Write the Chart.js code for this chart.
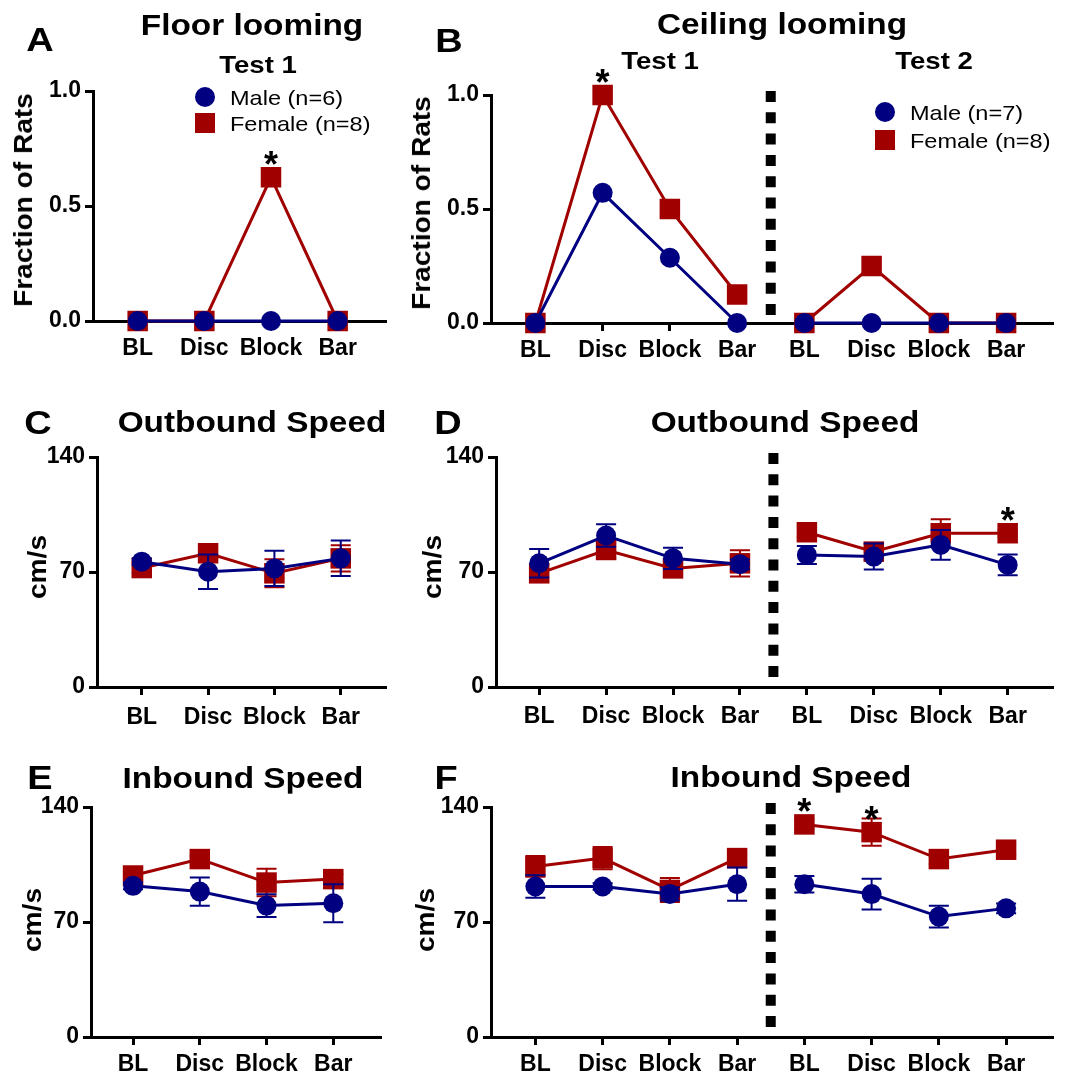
<!DOCTYPE html>
<html>
<head>
<meta charset="utf-8">
<script src="https://cdn.jsdelivr.net/npm/chart.js@4.4.1/dist/chart.umd.min.js"></script>
<style>
  body { margin: 0; background: #fff; }
  #fig { position: relative; width: 1067px; height: 1076px; overflow: hidden; }
  canvas { position: absolute; }
  .t {
    position: absolute; white-space: nowrap; line-height: 1; color: #000;
    font-family: "Liberation Sans", Arial, sans-serif; font-weight: bold;
    transform: translate(-50%, -50%) scaleX(1.15);
  }
  .lg { font-weight: normal; transform-origin: left center; transform: translate(0, -50%) scaleX(1.12); }
  .yt { transform: translate(-50%, -50%) rotate(-90deg) scaleX(1.08); }
  .mk { position: absolute; width: 20px; height: 20px; transform: translate(-50%, -50%); }
</style>
</head>
<body>
<div id="fig">
  <canvas id="cA" width="400" height="370" style="left:0;top:0;width:400px;height:370px"></canvas>
  <canvas id="cB" width="667" height="370" style="left:400px;top:0;width:667px;height:370px"></canvas>
  <canvas id="cC" width="400" height="360" style="left:0;top:370px;width:400px;height:360px"></canvas>
  <canvas id="cD" width="667" height="360" style="left:400px;top:370px;width:667px;height:360px"></canvas>
  <canvas id="cE" width="400" height="346" style="left:0;top:730px;width:400px;height:346px"></canvas>
  <canvas id="cF" width="667" height="346" style="left:400px;top:730px;width:667px;height:346px"></canvas>

  <div class="t" style="left:40px;top:39px;font-size:33px">A</div>
  <div class="t" style="left:449px;top:40px;font-size:33px">B</div>
  <div class="t" style="left:38px;top:422px;font-size:33px">C</div>
  <div class="t" style="left:448px;top:422px;font-size:33px">D</div>
  <div class="t" style="left:40px;top:777px;font-size:33px">E</div>
  <div class="t" style="left:446px;top:777px;font-size:33px">F</div>

  <div class="t" style="left:252px;top:25px;font-size:29px">Floor looming</div>
  <div class="t" style="left:782px;top:24px;font-size:29px">Ceiling looming</div>
  <div class="t" style="left:252px;top:422px;font-size:29px">Outbound Speed</div>
  <div class="t" style="left:785px;top:422px;font-size:29px">Outbound Speed</div>
  <div class="t" style="left:243px;top:778px;font-size:29px">Inbound Speed</div>
  <div class="t" style="left:791px;top:777px;font-size:29px">Inbound Speed</div>

  <div class="t" style="left:258px;top:65px;font-size:24px">Test 1</div>
  <div class="t" style="left:660px;top:61px;font-size:24px">Test 1</div>
  <div class="t" style="left:934px;top:61px;font-size:24px">Test 2</div>

  <div class="t yt" style="left:23px;top:200px;font-size:26px">Fraction of Rats</div>
  <div class="t yt" style="left:421px;top:203px;font-size:26px">Fraction of Rats</div>
  <div class="t yt" style="left:37px;top:567px;font-size:26px">cm/s</div>
  <div class="t yt" style="left:432px;top:567px;font-size:26px">cm/s</div>
  <div class="t yt" style="left:32px;top:920px;font-size:26px">cm/s</div>
  <div class="t yt" style="left:425px;top:920px;font-size:26px">cm/s</div>

  <!-- legends -->
  <div class="mk" style="left:205px;top:97px;border-radius:50%;background:#000080"></div>
  <div class="mk" style="left:205px;top:123px;background:#a00000"></div>
  <div class="t lg" style="left:230px;top:97px;font-size:21px">Male (n=6)</div>
  <div class="t lg" style="left:230px;top:123px;font-size:21px">Female (n=8)</div>
  <div class="mk" style="left:885px;top:112px;border-radius:50%;background:#000080"></div>
  <div class="mk" style="left:885px;top:140px;background:#a00000"></div>
  <div class="t lg" style="left:910px;top:112px;font-size:21px">Male (n=7)</div>
  <div class="t lg" style="left:910px;top:140px;font-size:21px">Female (n=8)</div>
</div>

<script>
// tick labels
const cats4 = ["BL", "Disc", "Block", "Bar"];
const cats8 = ["BL", "Disc", "Block", "Bar", "BL", "Disc", "Block", "Bar"];

// A - floor looming, fraction of rats
const aMale = [0, 0, 0, 0];
const aFemale = [0, 0, 0.625, 0];
// B - ceiling looming, test 1 + test 2
const bMale = [0, 0.571, 0.286, 0, 0, 0, 0, 0];
const bFemale = [0, 1.0, 0.5, 0.125, 0, 0.25, 0, 0];

// C - outbound speed (cm/s), mean and sem
const cMale = [76.3, 70.2, 72.2, 78.3];
const cMaleErr = [2, 10.5, 10.7, 10.8];
const cFemale = [72.4, 81.4, 69.2, 78.3];
const cFemaleErr = [3, 3, 8.5, 8];
// D
const dMale = [75.3, 92.2, 78.3, 74.7, 80.4, 79.4, 86.5, 74.3];
const dMaleErr = [8.7, 6.9, 6.5, 3, 5.5, 7.9, 9, 6.3];
const dFemale = [69.2, 83.4, 72.2, 75.3, 94.2, 82.4, 93.6, 93.6];
const dFemaleErr = [5, 5, 3, 8, 3, 5, 8.5, 2];

// E - inbound speed
const eMale = [92.0, 88.5, 80.0, 81.4];
const eMaleErr = [2, 8.6, 6.9, 11.6];
const eFemale = [98.3, 108.3, 94.0, 96.1];
const eFemaleErr = [2, 2, 8.4, 3];
// F
const fMale = [91.6, 91.6, 87.1, 93.0, 93.0, 87.0, 73.3, 78.3];
const fMaleErr = [6.9, 2, 4, 10.1, 5.0, 9.4, 6.6, 3];
const fFemale = [103.8, 108.9, 89.5, 108.9, 129.4, 124.7, 108.3, 114.0];
const fFemaleErr = [6.3, 6.8, 7.3, 2, 3, 8.3, 3, 3];

// significant points (female series index)
const starsA = [2];
const starsB = [1];
const starsD = [7];
const starsF = [4, 5];

const MALE = "#000080";
const FEMALE = "#a00000";
const FONT = "'Liberation Sans', Arial, sans-serif";

// error bars drawn just before each dataset
const errorBars = {
  id: "errorBars",
  beforeDatasetDraw(chart, args) {
    const ds = chart.data.datasets[args.index];
    if (!ds.err) return;
    const xs = chart.scales.x, ys = chart.scales.y, ctx = chart.ctx;
    ctx.save();
    ctx.strokeStyle = ds.borderColor;
    ctx.lineWidth = 2;
    ds.data.forEach((p, i) => {
      const e = ds.err[i];
      const px = xs.getPixelForValue(p.x);
      const top = ys.getPixelForValue(p.y + e);
      const bot = ys.getPixelForValue(p.y - e);
      ctx.beginPath();
      ctx.moveTo(px, top); ctx.lineTo(px, bot);
      ctx.moveTo(px - 10, top); ctx.lineTo(px + 10, top);
      ctx.moveTo(px - 10, bot); ctx.lineTo(px + 10, bot);
      ctx.stroke();
    });
    ctx.restore();
  }
};

// dotted divider between test 1 and test 2, and the asterisks
const extras = {
  id: "extras",
  afterDatasetsDraw(chart, args, opts) {
    const ctx = chart.ctx, xs = chart.scales.x, ys = chart.scales.y;
    const area = chart.chartArea;
    if (opts.divider != null) {
      const px = xs.getPixelForValue(opts.divider);
      ctx.save();
      ctx.strokeStyle = "#000";
      ctx.lineWidth = 10;
      ctx.setLineDash([11, 10.3]);
      ctx.beginPath();
      ctx.moveTo(px, area.top - 4);
      ctx.lineTo(px, area.bottom - 7);
      ctx.stroke();
      ctx.restore();
    }
    if (opts.stars) {
      const ds = chart.data.datasets[1];
      ctx.save();
      ctx.fillStyle = "#000";
      ctx.font = "bold 36px " + FONT;
      ctx.textAlign = "center";
      ctx.textBaseline = "alphabetic";
      opts.stars.forEach(i => {
        const p = ds.data[i];
        const px = xs.getPixelForValue(p.x);
        const py = ys.getPixelForValue(p.y) - 21;
        ctx.fillText("*", px, py + 21);
      });
      ctx.restore();
    }
  }
};

function pts(vals) {
  return vals.map((v, i) => ({ x: i, y: v }));
}

function makePanel(id, box, area, cfg) {
  const yW = 60;
  const xH = cfg.xH || 40;
  const pad = {
    left: area.L - box.x - yW,
    top: area.T - box.y,
    right: box.x + box.w - area.R,
    bottom: box.y + box.h - area.B - xH
  };
  const cats = cfg.cats;
  // no connecting line across the test 1 / test 2 divider
  const seg = {
    borderColor: c => (cfg.divider != null && c.p0DataIndex === 3) ? "rgba(0,0,0,0)" : undefined
  };
  const axisGrid = { display: true, drawOnChartArea: false, drawTicks: true, tickLength: 8, color: "#000", lineWidth: 3 };
  new Chart(document.getElementById(id), {
    type: "line",
    data: {
      datasets: [
        {
          label: "Male",
          data: pts(cfg.male),
          err: cfg.maleErr,
          borderColor: MALE,
          backgroundColor: MALE,
          borderWidth: 3,
          pointStyle: "circle",
          pointRadius: 10,
          pointBorderWidth: 0,
          segment: seg,
          clip: false
        },
        {
          label: "Female",
          data: pts(cfg.female),
          err: cfg.femaleErr,
          borderColor: FEMALE,
          backgroundColor: FEMALE,
          borderWidth: 3,
          pointStyle: "rect",
          pointRadius: 14.5,
          pointBorderWidth: 0,
          segment: seg,
          clip: false
        }
      ]
    },
    options: {
      responsive: false,
      devicePixelRatio: 1,
      animation: false,
      layout: { padding: pad },
      plugins: {
        legend: { display: false },
        tooltip: { enabled: false },
        extras: { divider: cfg.divider, stars: cfg.stars }
      },
      scales: {
        x: {
          type: "linear",
          min: cfg.xMin,
          max: cfg.xMax,
          afterBuildTicks: s => { s.ticks = cats.map((c, i) => ({ value: i })); },
          afterFit: s => { s.height = xH; },
          ticks: {
            callback: v => cats[v],
            autoSkip: false,
            maxRotation: 0,
            padding: cfg.xPad || 6,
            color: "#000",
            font: { family: FONT, size: 23, weight: "bold" }
          },
          grid: axisGrid,
          border: { display: true, color: "#000", width: 3 }
        },
        y: {
          min: 0,
          max: cfg.yMax,
          afterFit: s => { s.width = yW; },
          ticks: {
            stepSize: cfg.yStep,
            callback: cfg.yFmt,
            padding: 4,
            color: "#000",
            font: { family: FONT, size: 23, weight: "bold" }
          },
          grid: axisGrid,
          border: { display: true, color: "#000", width: 3 }
        }
      }
    },
    plugins: [errorBars, extras]
  });
}

const frac = v => v.toFixed(1);
const speed = v => String(v);

makePanel("cA", { x: 0, y: 0, w: 400, h: 370 }, { L: 93, R: 385, T: 91, B: 321 }, {
  cats: cats4, male: aMale, female: aFemale, yMax: 1, yStep: 0.5, yFmt: frac,
  xMin: -0.67, xMax: 3.71, stars: starsA
});
makePanel("cB", { x: 400, y: 0, w: 667, h: 370 }, { L: 491, R: 1060, T: 95, B: 323 }, {
  cats: cats8, male: bMale, female: bFemale, yMax: 1, yStep: 0.5, yFmt: frac,
  xMin: -0.66, xMax: 7.69, divider: 3.5, stars: starsB
});
makePanel("cC", { x: 0, y: 370, w: 400, h: 360 }, { L: 97, R: 387, T: 457, B: 687 }, {
  cats: cats4, male: cMale, maleErr: cMaleErr, female: cFemale, femaleErr: cFemaleErr,
  yMax: 140, yStep: 70, yFmt: speed, xMin: -0.675, xMax: 3.675, xPad: 9
});
makePanel("cD", { x: 400, y: 370, w: 667, h: 360 }, { L: 496, R: 1064, T: 457, B: 687 }, {
  cats: cats8, male: dMale, maleErr: dMaleErr, female: dFemale, femaleErr: dFemaleErr,
  yMax: 140, yStep: 70, yFmt: speed, xMin: -0.645, xMax: 7.67, divider: 3.5, stars: starsD, xPad: 8
});
makePanel("cE", { x: 0, y: 730, w: 400, h: 346 }, { L: 91, R: 380, T: 807, B: 1037 }, {
  cats: cats4, male: eMale, maleErr: eMaleErr, female: eFemale, femaleErr: eFemaleErr,
  yMax: 140, yStep: 70, yFmt: speed, xMin: -0.63, xMax: 3.7, xH: 38
});
makePanel("cF", { x: 400, y: 730, w: 667, h: 346 }, { L: 491, R: 1060, T: 807, B: 1037 }, {
  cats: cats8, male: fMale, maleErr: fMaleErr, female: fFemale, femaleErr: fFemaleErr,
  yMax: 140, yStep: 70, yFmt: speed, xMin: -0.66, xMax: 7.69, divider: 3.5, stars: starsF, xH: 38
});
</script>
</body>
</html>
